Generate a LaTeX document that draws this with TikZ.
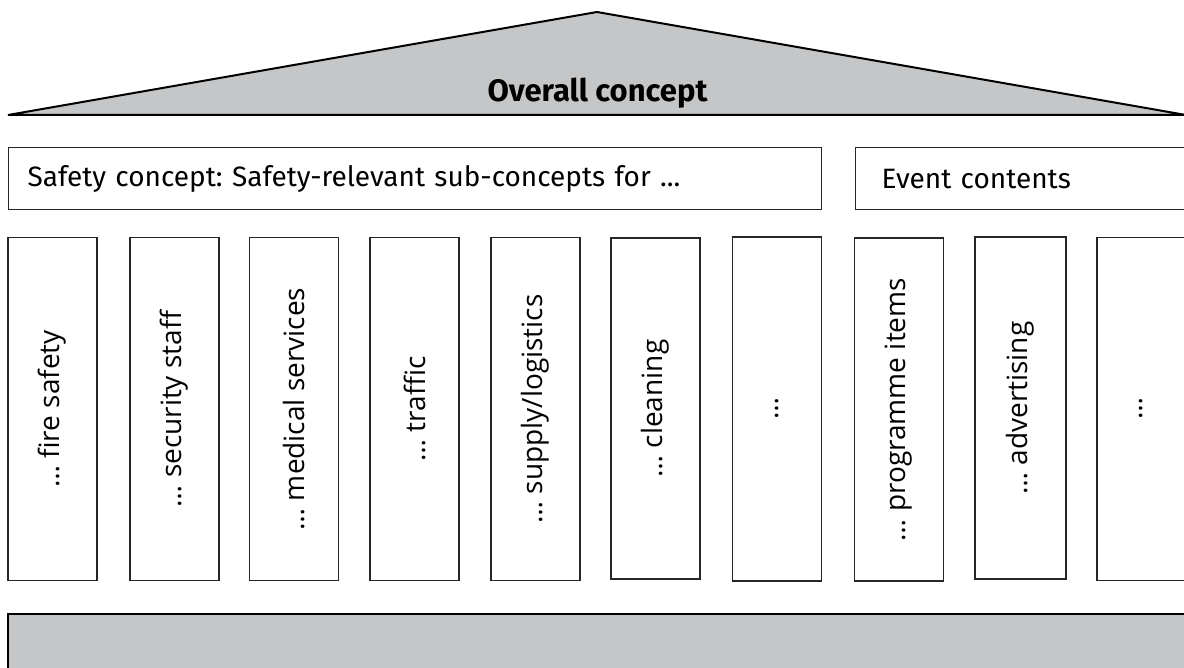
\documentclass[tikz,border=0pt]{standalone}
\usepackage{fontspec}
\setmainfont{Open Sans}
\newfontfamily\titlefont{Fira Sans}
\frenchspacing
\definecolor{roofgray}{HTML}{C5C6C8}
\tikzset{
  roof/.style={fill=roofgray, draw=black, line width=2pt, line join=miter},
  basebox/.style={fill=roofgray, draw=black, line width=2.6pt},
  headbox/.style={draw=black!85, line width=1.1pt, fill=white, minimum height=62pt,
    anchor=north west, align=left,
    font=\titlefont\fontsize{28}{32}\selectfont},
  pillar/.style={draw=black!85, line width=1.1pt, fill=white, rotate=90,
    minimum height=89pt, minimum width=343pt, inner sep=0pt,
    font=\fontsize{28}{32}\selectfont},
  titletext/.style={font=\titlefont\bfseries\fontsize{31}{36}\selectfont, inner sep=0pt}
}
\begin{document}
\begin{tikzpicture}[x=1pt,y=-1pt]
\useasboundingbox (0,0) rectangle (1184,668);
\clip (0,0) rectangle (1184,668);
\fill[white] (0,0) rectangle (1184,668);

% roof
\coordinate (roofL) at (8,115);
\coordinate (roofT) at (597,12);
\coordinate (roofR) at (1186,115);
\filldraw[roof] (roofL) -- (roofT) -- (roofR) -- cycle;
\node[titletext, anchor=base] (overall) at (597.5,102) {Overall concept};

% concept headers
\node[headbox, inner xsep=19pt, minimum width=813pt, text width=775pt] (safety) at (8,147)
  {Safety concept: Safety-relevant sub-concepts for ...};
\node[headbox, inner xsep=26pt, minimum width=360pt, text width=308pt] (event) at (855,147)
  {Event contents};

% pillars
\node[pillar] (p1) at (52.5,409) {… fire safety};
\node[pillar] (p2) at (174.5,409) {… security staff};
\node[pillar] (p3) at (294,409) {… medical services};
\node[pillar] (p4) at (414.5,409) {… traffic};
\node[pillar] (p5) at (535.5,409) {… supply/logistics};
\node[pillar, minimum width=341pt] (p6) at (655.5,408.5) {… cleaning};
\node[pillar, minimum width=344pt] (p7) at (777,409) {…};
\node[pillar] (p8) at (899,409.5) {… programme items};
\node[pillar, minimum width=342pt, minimum height=91pt] (p9) at (1020.5,408) {… advertising};
\node[pillar] (p10) at (1141.5,409) {…};

% foundation
\coordinate (baseNW) at (8,614);
\coordinate (baseSE) at (1200,700);
\filldraw[basebox] (baseNW) rectangle (baseSE);
\end{tikzpicture}
\end{document}
